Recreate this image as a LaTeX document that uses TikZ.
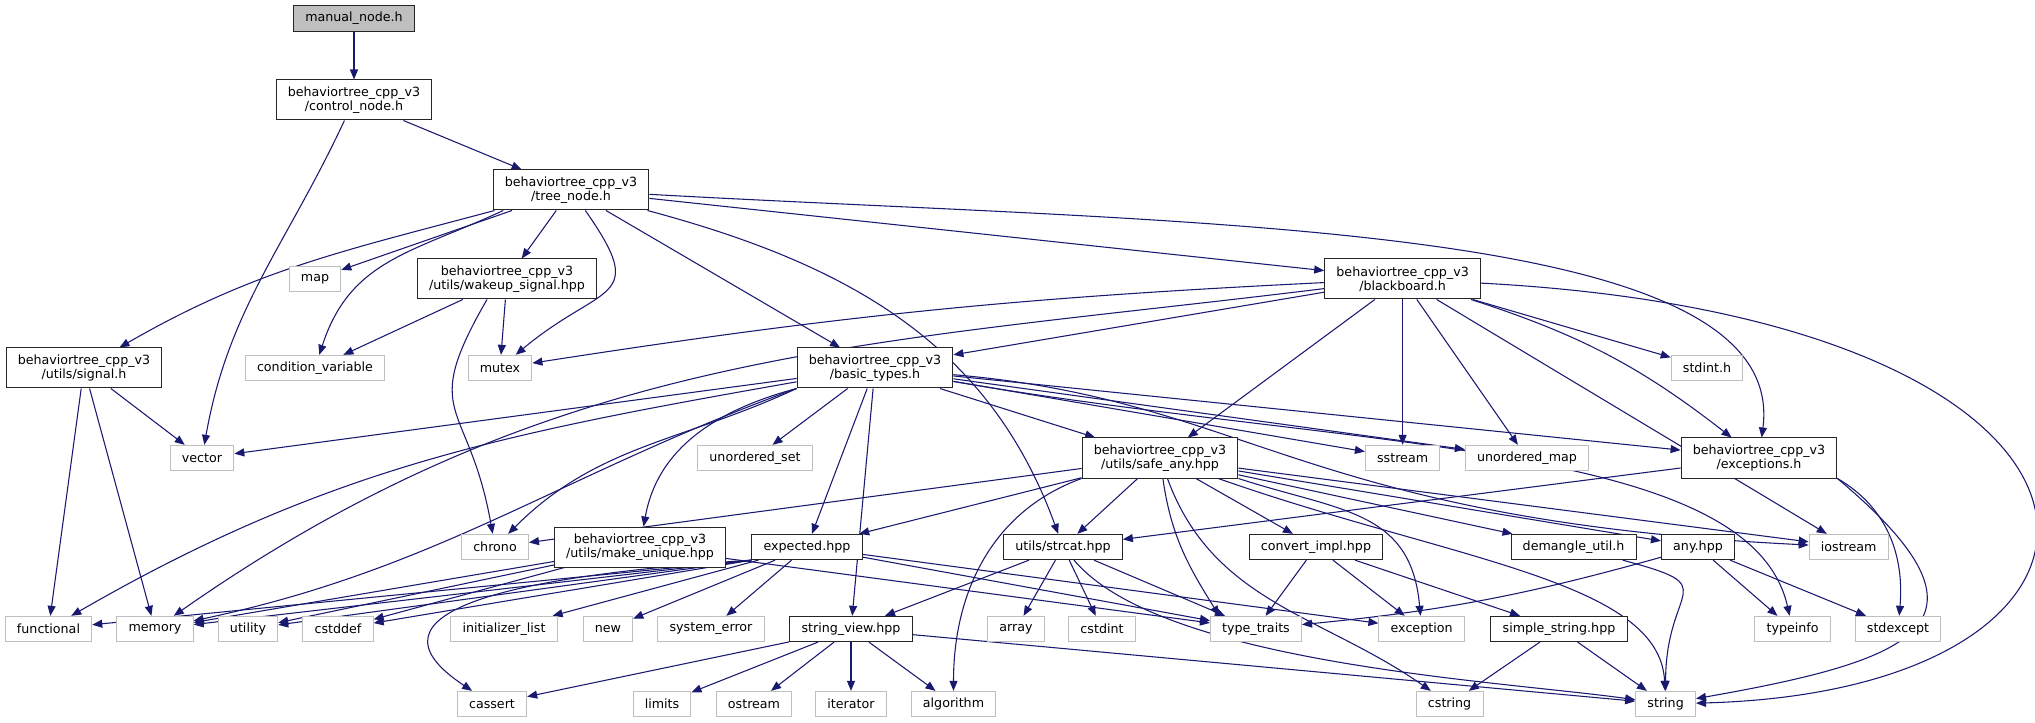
\documentclass[tikz,border=0pt]{standalone}
\usepackage{fontspec}
\setmainfont{DejaVu Sans}
\usetikzlibrary{arrows.meta}
\definecolor{edgeblue}{HTML}{191970}
\definecolor{grey75}{HTML}{BFBFBF}
\pgfdeclarelayer{bg}
\pgfsetlayers{bg,main}

\begin{document}
\begin{tikzpicture}[
	x=0.75pt, y=0.75pt,
	hdr/.style={draw=black!85, line width=0.75pt, fill=white, font=\fontsize{9.5}{10.7}\selectfont, align=center, inner xsep=8.8pt, inner ysep=0pt, minimum height=19pt},
	hdr2/.style={hdr, minimum height=30pt},
	sys/.style={hdr, draw=grey75},
	top/.style={hdr, fill=grey75},
	dep/.style={draw=edgeblue, line width=0.8pt, -{Triangle[length=7.5pt,width=6pt]}},
	every edge/.style={dep}
	]
	\useasboundingbox (0,0) rectangle (2035,-723);
	\node[top] (manual) at (354,-18.5) {manual\_node.h};
	\node[hdr2] (control) at (354,-100) {behaviortree\_cpp\_v3\\/control\_node.h};
	\node[hdr2] (tree) at (571,-190) {behaviortree\_cpp\_v3\\/tree\_node.h};
	\node[sys] (map) at (315,-279) {map};
	\node[hdr2] (wakeup) at (507,-279) {behaviortree\_cpp\_v3\\/utils/wakeup\_signal.hpp};
	\node[hdr2] (blackboard) at (1402.6,-279) {behaviortree\_cpp\_v3\\/blackboard.h};
	\node[hdr2] (signal) at (84,-368) {behaviortree\_cpp\_v3\\/utils/signal.h};
	\node[sys] (condvar) at (315,-368) {condition\_variable};
	\node[sys] (mutex) at (500,-368) {mutex};
	\node[hdr2] (basic) at (875,-368) {behaviortree\_cpp\_v3\\/basic\_types.h};
	\node[sys] (stdint) at (1707,-368) {stdint.h};
	\node[sys] (vector) at (202,-458) {vector};
	\node[sys] (unorderedset) at (755,-458) {unordered\_set};
	\node[hdr2] (safeany) at (1160,-458) {behaviortree\_cpp\_v3\\/utils/safe\_any.hpp};
	\node[sys] (sstream) at (1402.6,-458) {sstream};
	\node[sys] (unorderedmap) at (1527,-458) {unordered\_map};
	\node[hdr2] (exceptions) at (1759,-458) {behaviortree\_cpp\_v3\\/exceptions.h};
	\node[sys] (chrono) at (495,-547) {chrono};
	\node[hdr2] (makeunique) at (640,-547) {behaviortree\_cpp\_v3\\/utils/make\_unique.hpp};
	\node[hdr] (expected) at (807,-547) {expected.hpp};
	\node[hdr] (strcat) at (1063,-547) {utils/strcat.hpp};
	\node[hdr] (convert) at (1316,-547) {convert\_impl.hpp};
	\node[hdr] (demangle) at (1573.6,-547) {demangle\_util.h};
	\node[hdr] (anyhpp) at (1698,-547) {any.hpp};
	\node[sys] (iostream) at (1848.7,-547) {iostream};
	\node[sys] (functional) at (48.5,-629) {functional};
	\node[sys] (memory) at (155,-629) {memory};
	\node[sys] (utility) at (248,-629) {utility};
	\node[sys] (cstddef) at (338,-629) {cstddef};
	\node[sys] (initlist) at (504,-629) {initializer\_list};
	\node[sys] (newhdr) at (608,-629) {new};
	\node[sys] (syserror) at (711,-629) {system\_error};
	\node[hdr] (stringview) at (851,-629) {string\_view.hpp};
	\node[sys] (array) at (1016,-629) {array};
	\node[sys] (cstdint) at (1102,-629) {cstdint};
	\node[sys] (typetraits) at (1256,-629) {type\_traits};
	\node[sys] (exception) at (1421.6,-629) {exception};
	\node[hdr] (simplestring) at (1559,-629) {simple\_string.hpp};
	\node[sys] (typeinfo) at (1792.6,-629) {typeinfo};
	\node[sys] (stdexcept) at (1898,-629) {stdexcept};
	\node[sys] (cassert) at (492,-704) {cassert};
	\node[sys] (limits) at (662,-704) {limits};
	\node[sys] (ostream) at (754,-704) {ostream};
	\node[sys] (iterator) at (851,-704) {iterator};
	\node[sys] (algorithm) at (953.5,-704) {algorithm};
	\node[sys] (cstring) at (1449.6,-704) {cstring};
	\node[sys] (string) at (1665.6,-704) {string};
	\begin{pgfonlayer}{bg}
		\path (manual) edge (control);
		\path (control) edge (tree) edge[out=-115,in=80] (vector);
		\path (tree) edge[out=195,in=30] (signal)
			edge (map)
			edge (wakeup)
			edge[out=-55,in=40,looseness=1.8] (mutex)
			edge (basic)
			edge[out=-15,in=110] (strcat)
			edge (blackboard);
		\path ([xshift=8pt]tree.south west) edge[out=205,in=72,looseness=1.1] (condvar);
		\draw[dep] (tree) .. controls (1200,-225) and (1790,-220) .. (exceptions);
		\path (wakeup) edge (condvar) edge (mutex);
		\path ([xshift=-15pt]wakeup.south) edge[out=-120,in=100,looseness=1.5] (chrono);
		\path (signal) edge (functional) edge (memory) edge (vector);
		\path (blackboard) edge[bend right=3] (mutex)
			edge (basic)
			edge[out=187,in=35] (memory)
			edge (safeany)
			edge (sstream)
			edge (unorderedmap)
			edge (iostream)
			edge (stdint)
			edge[bend left=10] (exceptions);
		\draw[dep] (blackboard) .. controls (2180,-320) and (2180,-690) .. (string);
		\path (basic) edge (vector)
			edge[out=190,in=30] (functional)
			edge (unorderedset)
			edge (expected)
			edge (stringview)
			edge (safeany)
			edge (sstream)
			edge (unorderedmap)
			edge (exceptions);
		\path (basic.south west) edge[out=200,in=12] (memory)
			edge[out=205,in=45] (chrono)
			edge[out=195,in=80] (makeunique);
		\draw[dep] (basic) .. controls (1250,-400) and (1300,-520) .. (iostream);
		\draw[dep] (basic) .. controls (1350,-450) and (1750,-440) .. (typeinfo);
		\path (safeany) edge (chrono)
			edge (expected)
			edge (strcat)
			edge (convert)
			edge (iostream)
			edge (anyhpp)
			edge (demangle)
			edge[out=-70,in=145] (cstring)
			edge[out=-82,in=122] ([xshift=7pt]typetraits.north west);
		\path (safeany.south west) edge[out=200,in=90] (algorithm);
		\path (safeany.south east) edge[out=-18,in=95,looseness=1.2] (exception);
		\draw[dep] (safeany) .. controls (1450,-560) and (1660,-580) .. (string);
		\path (makeunique) edge (memory) edge (utility) edge (cstddef) edge (typetraits);
		\path (expected.south west) edge (functional) edge (memory) edge (utility) edge (cstddef);
		\path (expected) edge (initlist) edge (newhdr) edge (syserror) edge (typetraits) edge (exception);
		\draw[dep] (expected.south west) .. controls (520,-575) and (350,-610) .. (cassert);
		\path (strcat) edge (stringview) edge (array) edge (cstdint) edge (typetraits)
			edge[out=-50,in=172,looseness=0.6] (string);
		\path (convert) edge (typetraits) edge (exception) edge (simplestring);
		\path (stringview) edge (cassert) edge (limits) edge (ostream) edge (iterator) edge (algorithm) edge (string);
		\path (simplestring) edge (cstring) edge (string);
		\path (demangle) edge[out=-15,in=90,looseness=2] (string);
		\path (anyhpp) edge[bend left=5] (typetraits) edge (typeinfo) edge (stdexcept);
		\path (exceptions) edge (strcat);
		\path (exceptions.south east) edge[out=-30,in=85] (stdexcept)
			edge[out=-40,in=10,looseness=2.2] (string);
	\end{pgfonlayer}
\end{tikzpicture}
\end{document}
